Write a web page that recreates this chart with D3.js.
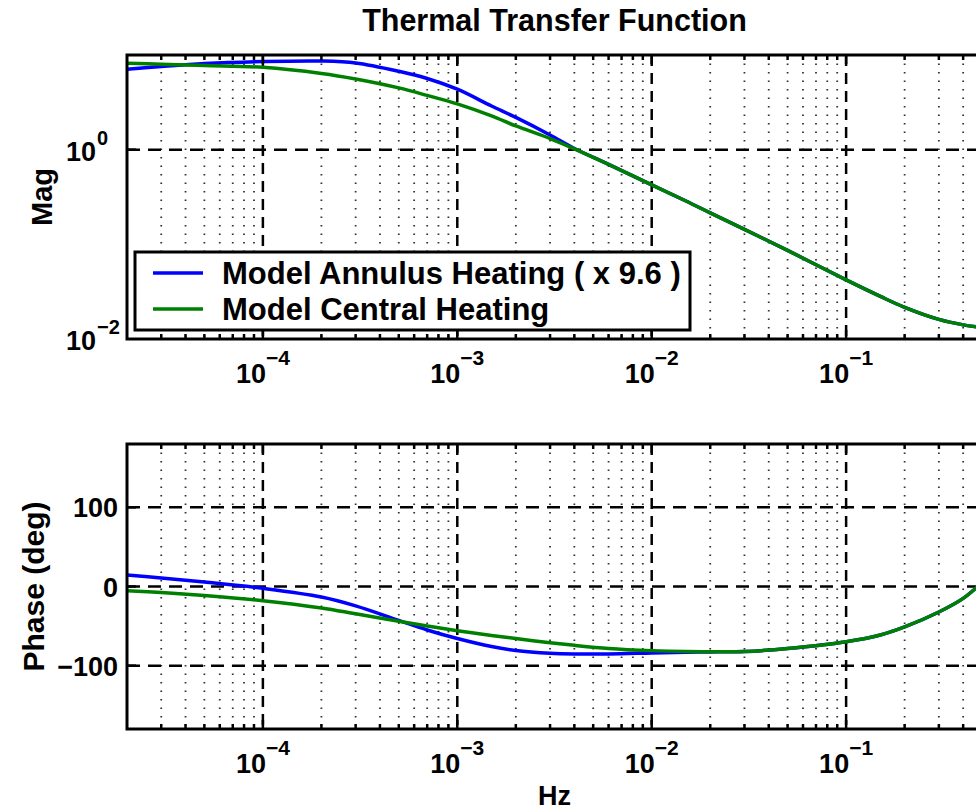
<!DOCTYPE html>
<html>
<head>
<meta charset="utf-8">
<script src="https://cdn.jsdelivr.net/npm/d3@7"></script>
<style>
  body { margin: 0; background: #fff; overflow: hidden; }
  text { font-family: "Liberation Sans", Arial, Helvetica, sans-serif; font-weight: bold; fill: #000; }
</style>
</head>
<body>
<script>
// Frequencies (Hz) and the two model curves
const freq = [2e-5, 3e-5, 5e-5, 1e-4, 2e-4, 3e-4, 5e-4, 7e-4, 1e-3, 1.5e-3, 2e-3, 3e-3, 4e-3, 6e-3,
  1e-2, 1.5e-2, 2e-2, 3e-2, 5e-2, 0.1, 0.15, 0.2, 0.3, 0.4, 0.5];
const magAnnulus = [7.06, 7.56, 8.13, 8.54, 8.64, 8.24, 6.73, 5.65, 4.35, 2.89, 2.19, 1.43, 1.03, 0.70,
  0.424, 0.287, 0.215, 0.144, 0.0863, 0.0421, 0.0282, 0.0216, 0.0161, 0.0141, 0.0132];
const magCentral = [8.17, 8.0, 7.75, 7.41, 6.38, 5.58, 4.49, 3.74, 3.04, 2.27, 1.78, 1.31, 1.02, 0.698,
  0.424, 0.287, 0.215, 0.144, 0.0863, 0.0421, 0.0282, 0.0216, 0.0161, 0.0141, 0.0132];
const phaseAnnulus = [14.5, 10.7, 5.7, -2.3, -13.3, -24.5, -42.9, -54.9, -65.7, -75.8, -80.8, -84.3, -85.2, -85.2,
  -84.0, -83.1, -82.6, -82.2, -78.3, -69.7, -61.2, -51.1, -32.2, -15, 5];
const phaseCentral = [-5.3, -7.6, -11.4, -17.9, -27.1, -34.5, -43.9, -49.9, -55.8, -61.8, -65.8, -71.0, -74.3, -78.2,
  -81.0, -82.2, -82.4, -82.1, -78.3, -69.7, -61.2, -51.1, -32.2, -15, 5];

const seriesNames = ["Model Annulus Heating ( x 9.6 )", "Model Central Heating"];
const seriesColors = ["#0000ff", "#008000"];

// Tick labels
const xTickExp = [-4, -3, -2, -1];
const magTickExp = [-2, 0];
const phaseTicks = [-100, 0, 100];

const width = 976, height = 811;
const left = 127, right = 982;

const svg = d3.select("body").append("svg")
  .attr("width", width)
  .attr("height", height);

const x = d3.scaleLog().domain([2e-5, 0.5]).range([left, right]);
const yMag = d3.scaleLog().domain([1e-2, 1e1]).range([339, 55]);
const yPhase = d3.scaleLinear().domain([-180, 180]).range([729, 444]);

// minor positions 2..9 per decade, inside the domain
const minor = [];
for (let e = -5; e <= -1; e++) {
  for (let m = 2; m <= 9; m++) {
    const v = m * Math.pow(10, e);
    if (v > 2e-5 * 1.001 && v < 0.5 * 0.999) minor.push(v);
  }
}
const majorX = xTickExp.map((e) => Math.pow(10, e));

function drawPanel(id, y, yMajors, series, top, bottom) {
  const g = svg.append("g").attr("id", id);

  g.append("clipPath").attr("id", id + "-clip")
    .append("rect").attr("x", left).attr("y", top)
    .attr("width", right - left).attr("height", bottom - top);

  // minor grid (dotted)
  g.append("g").selectAll("line").data(minor).join("line")
    .attr("x1", (d) => x(d)).attr("x2", (d) => x(d))
    .attr("y1", top).attr("y2", bottom)
    .attr("stroke", "#333").attr("stroke-width", 1.8)
    .attr("stroke-dasharray", "1.5,7");

  // major grid (dashed)
  g.append("g").selectAll("line").data(majorX).join("line")
    .attr("x1", (d) => x(d)).attr("x2", (d) => x(d))
    .attr("y1", top).attr("y2", bottom)
    .attr("stroke", "#000").attr("stroke-width", 2.5)
    .attr("stroke-dasharray", "11,7");
  g.append("g").selectAll("line").data(yMajors).join("line")
    .attr("x1", left).attr("x2", right)
    .attr("y1", (d) => y(d)).attr("y2", (d) => y(d))
    .attr("stroke", "#000").attr("stroke-width", 2.5)
    .attr("stroke-dasharray", "13,8");

  // curves
  const line = d3.line()
    .x((d) => x(d[0]))
    .y((d) => y(d[1]))
    .curve(d3.curveCatmullRom);
  series.forEach((vals, i) => {
    g.append("path")
      .datum(freq.map((f, k) => [f, vals[k]]))
      .attr("clip-path", `url(#${id}-clip)`)
      .attr("fill", "none")
      .attr("stroke", seriesColors[i])
      .attr("stroke-width", 3.5)
      .attr("d", line);
  });

  // ticks inside the box
  const tk = g.append("g").attr("stroke", "#000").attr("stroke-width", 2.5);
  minor.forEach((d) => {
    tk.append("line").attr("x1", x(d)).attr("x2", x(d)).attr("y1", bottom).attr("y2", bottom - 5);
    tk.append("line").attr("x1", x(d)).attr("x2", x(d)).attr("y1", top).attr("y2", top + 5);
  });
  majorX.forEach((d) => {
    tk.append("line").attr("x1", x(d)).attr("x2", x(d)).attr("y1", bottom).attr("y2", bottom - 9);
    tk.append("line").attr("x1", x(d)).attr("x2", x(d)).attr("y1", top).attr("y2", top + 9);
  });
  yMajors.forEach((d) => {
    tk.append("line").attr("x1", left).attr("x2", left + 9).attr("y1", y(d)).attr("y2", y(d));
  });

  // box
  g.append("rect")
    .attr("x", left).attr("y", top)
    .attr("width", right - left).attr("height", bottom - top)
    .attr("fill", "none").attr("stroke", "#000").attr("stroke-width", 3);

  // x tick labels 10^n
  majorX.forEach((d, i) => {
    const t = g.append("text")
      .attr("x", x(d)).attr("y", bottom + 44)
      .attr("text-anchor", "middle")
      .style("font-size", "27px");
    t.append("tspan").text("10");
    t.append("tspan").attr("dy", -18).style("font-size", "21px")
      .text("\u2212" + Math.abs(xTickExp[i]));
  });
}

drawPanel("mag", yMag, [1], [magAnnulus, magCentral], 55, 339);
drawPanel("phase", yPhase, phaseTicks, [phaseAnnulus, phaseCentral], 444, 729);

// magnitude y tick labels
magTickExp.forEach((e) => {
  const t = svg.append("text")
    .attr("x", 66).attr("y", yMag(Math.pow(10, e)) + 11)
    .style("font-size", "27px");
  t.append("tspan").text("10");
  t.append("tspan").attr("dy", -16).attr("dx", 1).style("font-size", "20px")
    .text(e < 0 ? "\u2212" + Math.abs(e) : String(e));
});

// phase y tick labels
svg.append("g").selectAll("text").data(phaseTicks).join("text")
  .attr("x", 118).attr("y", (d) => yPhase(d) + 10)
  .attr("text-anchor", "end")
  .style("font-size", "27px")
  .text((d) => (d < 0 ? "\u2212" + Math.abs(d) : d));

// titles and axis labels
svg.append("text")
  .attr("x", (left + right) / 2).attr("y", 31)
  .attr("text-anchor", "middle")
  .style("font-size", "30.5px")
  .text("Thermal Transfer Function");

svg.append("text")
  .attr("transform", `translate(52,${(55 + 339) / 2}) rotate(-90)`)
  .attr("text-anchor", "middle")
  .style("font-size", "29px")
  .text("Mag");

svg.append("text")
  .attr("transform", `translate(44,${(444 + 729) / 2}) rotate(-90)`)
  .attr("text-anchor", "middle")
  .style("font-size", "30px")
  .text("Phase (deg)");

svg.append("text")
  .attr("x", (left + right) / 2).attr("y", 805)
  .attr("text-anchor", "middle")
  .style("font-size", "27px")
  .text("Hz");

// legend
const legend = svg.append("g").attr("id", "legend");
legend.append("rect")
  .attr("x", 135).attr("y", 252).attr("width", 555).attr("height", 78)
  .attr("fill", "#fff").attr("stroke", "#000").attr("stroke-width", 3);
seriesNames.forEach((name, i) => {
  const ly = 273 + i * 36;
  legend.append("line")
    .attr("x1", 153).attr("x2", 203).attr("y1", ly).attr("y2", ly)
    .attr("stroke", seriesColors[i]).attr("stroke-width", 3.5);
  legend.append("text")
    .attr("x", 222).attr("y", ly + 11)
    .style("font-size", "31px")
    .text(name);
});
</script>
</body>
</html>
